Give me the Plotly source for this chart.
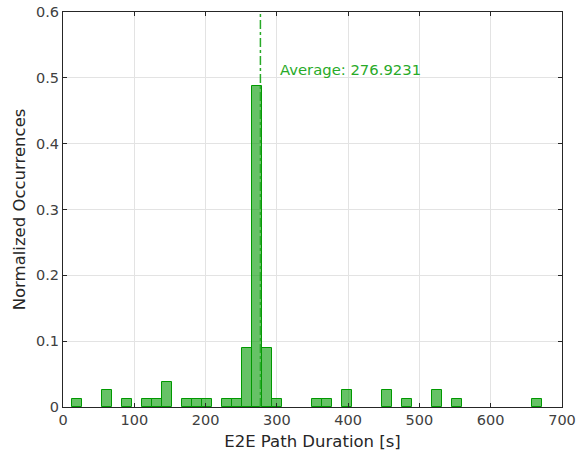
import plotly.graph_objects as go

# Histogram data
bin_start = 12.5
bin_width = 14.03
bin_index = [0, 3, 5, 7, 8, 9, 11, 12, 13, 15, 16, 17, 18, 19, 20, 24, 25, 27, 31, 33, 36, 38, 46]
counts = [1, 2, 1, 1, 1, 3, 1, 1, 1, 1, 1, 7, 38, 7, 1, 1, 1, 2, 2, 1, 2, 1, 1]
total = sum(counts)
average = 276.9231

x_ticks = [0, 100, 200, 300, 400, 500, 600, 700]
y_ticks = [0, 0.1, 0.2, 0.3, 0.4, 0.5, 0.6]
y_tick_text = ["0", "0.1", "0.2", "0.3", "0.4", "0.5", "0.6"]

centers = [bin_start + (i + 0.5) * bin_width for i in bin_index]
norm = [c / total for c in counts]

font_family = "DejaVu Sans"
tick_color = "#404040"

fig = go.Figure()
fig.add_trace(go.Bar(
    x=centers, y=norm, width=bin_width,
    marker=dict(color="rgba(0,153,0,0.6)", line=dict(color="rgb(0,153,0)", width=1)),
    showlegend=False,
))
fig.add_trace(go.Scatter(
    x=[average, average], y=[0, 0.6], mode="lines",
    line=dict(color="rgb(40,170,40)", width=1.5, dash="dashdot"),
    showlegend=False,
))
fig.add_annotation(
    x=301, y=0.513, text="Average: 276.9231", showarrow=False,
    xanchor="left", yanchor="middle",
    font=dict(family=font_family, size=14.8, color="rgb(40,170,40)"),
)

axis_common = dict(
    showline=True, linecolor="#262626", linewidth=1, mirror="ticks",
    ticks="inside", ticklen=4, tickcolor="#262626",
    showgrid=True, gridcolor="#e3e3e3", gridwidth=1, zeroline=False,
    tickfont=dict(family=font_family, size=14.5, color=tick_color),
    automargin=False, ticklabeloverflow="allow",
)

fig.update_layout(
    width=578, height=459,
    margin=dict(l=63, r=16, t=12, b=52),
    paper_bgcolor="white", plot_bgcolor="white",
    bargap=0,
    xaxis=dict(range=[0, 700], tickvals=x_ticks,
               title=dict(text="E2E Path Duration [s]", standoff=8,
                          font=dict(family=font_family, size=16.5, color="#262626")),
               **axis_common),
    yaxis=dict(range=[0, 0.6], tickvals=y_ticks, ticktext=y_tick_text,
               title=dict(text="Normalized Occurrences", standoff=6,
                          font=dict(family=font_family, size=16.5, color="#262626")),
               **axis_common),
)

# remove the page's default body margin so the figure fills the window exactly
fig.write_html("out.html", config={"displayModeBar": False},
               post_script="document.body.style.margin='0';")
